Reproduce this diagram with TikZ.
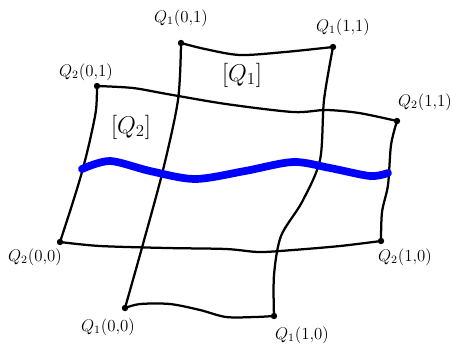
\documentclass[tikz,border=0pt]{standalone}
\usepackage{tikz}
\usetikzlibrary{positioning}
\definecolor{pathblue}{RGB}{0,0,255}
\tikzset{
  edge/.style={line width=1.6pt,line join=round,line cap=round},
  corner/.style={circle,fill=black,inner sep=0pt,minimum size=1.6mm},
  tag/.style={font=\large,inner sep=1pt},
  patch/.style={font=\LARGE,inner sep=1pt},
  wave/.style={draw=pathblue,line width=5.5pt,line cap=round},
}

\begin{document}
\begin{tikzpicture}[x=0.025cm,y=-0.025cm]
  \useasboundingbox (0,0) rectangle (452,343);
  % corners of the two patches
  \foreach \n/\x/\y in {q1-00/125/308,q1-10/274/316,q1-01/181/43,q1-11/333/47,
                        q2-00/60/242,q2-10/381/241,q2-01/97/86,q2-11/397/121}
    \node[corner] (\n) at (\x,\y) {};
  \foreach \n/\x/\y/\t in {q1-00/108/327/{Q_1(0{,}0)},q1-10/302/335/{Q_1(1{,}0)},
                           q1-01/181/18/{Q_1(0{,}1)},q1-11/343/27/{Q_1(1{,}1)},
                           q2-00/35/257/{Q_2(0{,}0)},q2-10/405/257/{Q_2(1{,}0)},
                           q2-01/86/72/{Q_2(0{,}1)},q2-11/425/102/{Q_2(1{,}1)}}
    \node[tag] (l\n) at (\x,\y) {$\t$};
  \node[patch] (p1) at (242,75) {$[Q_1]$};
  \node[patch] (p2) at (131,127) {$[Q_2]$};
  % patch Q1
  \draw[edge] plot[smooth] coordinates {(q1-01.center) (205,49) (240,55) (285,52) (q1-11.center)};
  \draw[edge] plot[smooth] coordinates {(q1-01.center) (178,100) (163,170) (143,244) (q1-00.center)};
  \draw[edge] plot[smooth] coordinates {(q1-11.center) (324,100) (320,160) (302,202) (281,236) (274,275) (q1-10.center)};
  \draw[edge] plot[smooth] coordinates {(q1-00.center) (140,304) (170,304) (200,310) (226,317) (255,317) (q1-10.center)};
  % patch Q2
  \draw[edge] plot[smooth] coordinates {(q2-01.center) (133,88) (167,94) (226,104) (293,112) (326,110) (359,113) (q2-11.center)};
  \draw[edge] plot[smooth] coordinates {(q2-01.center) (96,110) (90,140) (82,172) (72,205) (q2-00.center)};
  \draw[edge] plot[smooth] coordinates {(q2-11.center) (391,145) (388,185) (382,212) (q2-10.center)};
  \draw[edge] plot[smooth] coordinates {(q2-00.center) (100,246) (167,248) (226,249) (259,252) (293,250) (340,246) (q2-10.center)};
  % curve across both
  \draw[wave] plot[smooth] coordinates {(82,169) (110,161) (150,171) (195,179) (245,171) (293,162) (330,168) (370,176) (388,173)};
\end{tikzpicture}
\end{document}
